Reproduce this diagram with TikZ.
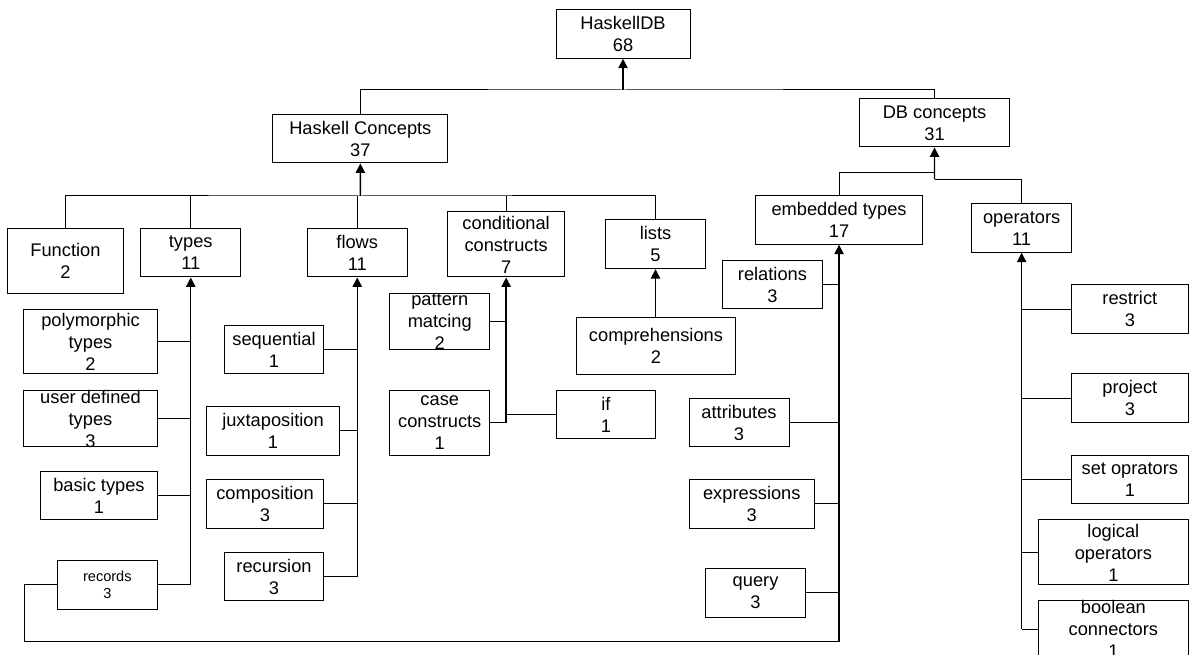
\documentclass[tikz,border=0pt]{standalone}
\usepackage{fontspec}
\setmainfont{Liberation Sans}
\usetikzlibrary{arrows.meta}

\tikzset{
  box/.style={draw=black, line width=0.75pt, rectangle, inner sep=0pt},
  lbl/.style={font=\fontsize{13.7}{16.5}\selectfont, align=center, inner sep=0pt},
  small/.style={font=\fontsize{10.9}{12.5}\selectfont},
  link/.style={draw=black, line width=0.75pt},
  up/.style={draw=black, line width=1pt, -{Triangle[width=7pt,length=7pt]}},
}

% \bx[label options]{name}{x1}{y1}{x2}{y2}{text}: a box given by its corners
\newcommand\bx[7][]{%
  \node[box, minimum width={(#5-#3)*0.75pt}, minimum height={(#6-#4)*0.75pt},
        label={[lbl,#1]center:#7}] (#2) at ({(#3+#5)/2},{(#4+#6)/2}) {};}

\begin{document}
\begin{tikzpicture}[x=0.75pt, y=-0.75pt]
\useasboundingbox (0,0) rectangle (1189,655);
\clip (0,0) rectangle (1189,655);

% root and first level
\bx{hdb}{556}{9.3}{690}{58.3}{HaskellDB\\68}
\bx{hc}{272.9}{115}{447.8}{163}{Haskell Concepts\\37}
\bx{db}{859.3}{98.7}{1009.8}{147}{DB concepts\\31}

% Haskell concepts
\bx{fn}{7.7}{228.3}{123.2}{293.3}{Function\\2}
\bx{types}{140.8}{228.3}{240.7}{277}{types\\11}
\bx{flows}{307.3}{228.3}{407.2}{277}{flows\\11}
\bx{cond}{447.8}{212}{564.5}{277}{conditional\\constructs\\7}
\bx{lists}{605.3}{220}{705.7}{268.7}{lists\\5}

% DB concepts
\bx{emb}{755.4}{196}{922.7}{244.3}{embedded types\\17}
\bx{ops}{971.6}{204}{1071.7}{252.3}{operators\\11}

% types
\bx{poly}{23.7}{309.3}{157.3}{374}{polymorphic\\types\\2}
\bx{udt}{23.7}{390.7}{157.3}{447}{user defined\\types\\3}
\bx{basic}{40.6}{471.7}{157.3}{520}{basic types\\1}
\bx[small]{rec}{57.4}{560.3}{157.3}{609}{records\\3}

% flows
\bx{seq}{224.3}{325.7}{323.8}{374}{sequential\\1}
\bx{jux}{206.3}{406.7}{339.8}{455.3}{juxtaposition\\1}
\bx{comp}{206.3}{479.7}{323.8}{528.3}{composition\\3}
\bx{recur}{224.3}{552.3}{323.8}{601}{recursion\\3}

% conditional constructs
\bx{pat}{389.6}{293.3}{489.9}{350}{pattern\\matcing\\2}
\bx{case}{389.6}{390.7}{489.9}{455.3}{case\\constructs\\1}
\bx{if}{556}{390.7}{655.7}{439}{if\\1}

% lists
\bx{compr}{576.3}{317.7}{735.7}{374.3}{comprehensions\\2}

% embedded types
\bx{rel}{722.6}{260.7}{822.3}{309}{relations\\3}
\bx{attr}{689}{398.7}{789}{447}{attributes\\3}
\bx{expr}{689}{479.7}{814.6}{528.3}{expressions\\3}
\bx{query}{705.7}{568.3}{805.4}{617}{query\\3}

% operators
\bx{restrict}{1071.7}{285}{1188}{333.3}{restrict\\3}
\bx{project}{1071.7}{374}{1188}{422.7}{project\\3}
\bx{setop}{1071.7}{455.3}{1188}{503.7}{set oprators\\1}
\bx{logical}{1038.7}{520}{1188}{585}{logical\\operators\\1}
\bx{bool}{1038.7}{601}{1188}{657}{boolean\\connectors\\1}

% root connectors
\coordinate (j0) at (623,90);
\draw[link] (hc.north) |- (j0) -| (db.north);
\draw[up] (j0) -- (hdb.south);

% Haskell concepts bus
\coordinate (j1) at (360.35,196);
\draw[link] (fn.north) |- (j1) -| (lists.north);
\draw[link] (types.north) -- (types.north |- j1);
\draw[link] (flows.north) -- (flows.north |- j1);
\draw[link] (cond.north) -- (cond.north |- j1);
\draw[up] (j1) -- (hc.south);

% DB concepts bus
\coordinate (j2) at (934.5,179.3);
\coordinate (j2a) at (934.5,172.7);
\draw[link] (emb.north) |- (j2a);
\draw[link] (ops.north) |- (j2);
\draw[up] (j2) -- (db.south);

% types
\coordinate (t0) at (types.south |- rec.east);
\draw[link] (poly.east) -- (poly.east -| types.south);
\draw[link] (udt.east) -- (udt.east -| types.south);
\draw[link] (basic.east) -- (basic.east -| types.south);
\draw[link] (rec.east) -- (t0);
\draw[up] (t0) -- (types.south);

% records also feed embedded types
\coordinate (r1) at (24.5,641.7);
\coordinate (e0) at (emb.south |- r1);
\draw[link] (rec.west) -| (r1) -- (e0);

% flows
\coordinate (f0) at (flows.south |- recur.east);
\draw[link] (seq.east) -- (seq.east -| flows.south);
\draw[link] (jux.east) -- (jux.east -| flows.south);
\draw[link] (comp.east) -- (comp.east -| flows.south);
\draw[link] (recur.east) -- (f0);
\draw[up] (f0) -- (flows.south);

% conditional constructs
\coordinate (c0) at (cond.south |- case.east);
\draw[link] (pat.east) -- (pat.east -| cond.south);
\draw[link] (case.east) -- (c0);
\draw[link] (if.west) -- (if.west -| cond.south);
\draw[up] (c0) -- (cond.south);

% lists
\draw[up] (lists.south |- compr.north) -- (lists.south);

% embedded types
\draw[link] (rel.east) -- (rel.east -| emb.south);
\draw[link] (attr.east) -- (attr.east -| emb.south);
\draw[link] (expr.east) -- (expr.east -| emb.south);
\draw[link] (query.east) -- (query.east -| emb.south);
\draw[up] (e0) -- (emb.south);

% operators
\coordinate (o0) at (ops.south |- bool.west);
\draw[link] (restrict.west) -- (restrict.west -| ops.south);
\draw[link] (project.west) -- (project.west -| ops.south);
\draw[link] (setop.west) -- (setop.west -| ops.south);
\draw[link] (logical.west) -- (logical.west -| ops.south);
\draw[link] (bool.west) -- (o0);
\draw[up] (o0) -- (ops.south);
\end{tikzpicture}
\end{document}
